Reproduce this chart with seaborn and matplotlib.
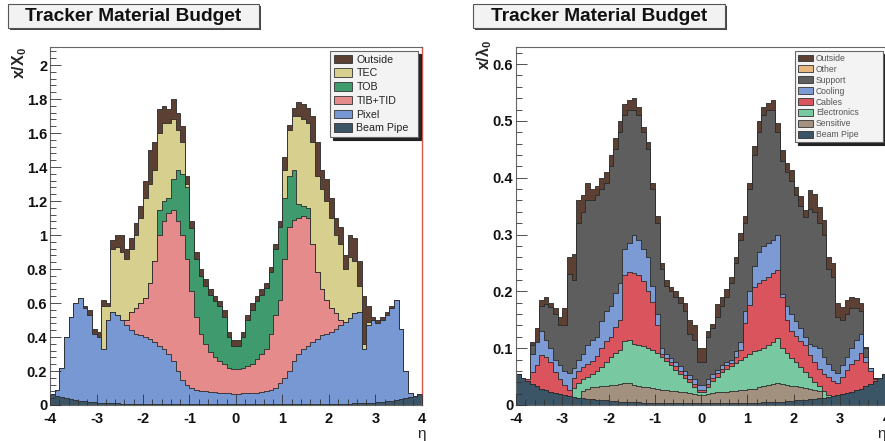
import numpy as np
import pandas as pd
import matplotlib
matplotlib.use("Agg")
import matplotlib.pyplot as plt
from matplotlib.patches import Patch, Rectangle
from matplotlib.ticker import MultipleLocator
import seaborn as sns

# eta binning (0.1 wide bins from -4 to 4)
eta_edges = np.linspace(-4, 4, 81)
eta_centers = (eta_edges[:-1] + eta_edges[1:]) / 2

# ---- left panel: x/X0, cumulative tops of each stacked layer
beam_l = [0.065, 0.055, 0.047, 0.040, 0.034, 0.029, 0.025, 0.021, 0.018, 0.016,
          0.014, 0.012, 0.011, 0.010, 0.009, 0.008, 0.007, 0.007, 0.006, 0.006,
          0.005, 0.005, 0.005, 0.004, 0.004, 0.004, 0.004, 0.003, 0.003, 0.003,
          0.003, 0.003, 0.003, 0.003, 0.003, 0.003, 0.003, 0.003, 0.003, 0.003,
          0.003, 0.003, 0.003, 0.003, 0.003, 0.003, 0.003, 0.003, 0.003, 0.003,
          0.003, 0.003, 0.003, 0.004, 0.004, 0.004, 0.004, 0.005, 0.005, 0.005,
          0.006, 0.006, 0.007, 0.007, 0.008, 0.009, 0.010, 0.011, 0.012, 0.014,
          0.016, 0.018, 0.021, 0.025, 0.029, 0.034, 0.040, 0.047, 0.055, 0.065]
pixel_l = [0.065, 0.09, 0.22, 0.40, 0.52, 0.60, 0.63, 0.57, 0.53, 0.42,
           0.40, 0.33, 0.50, 0.55, 0.53, 0.50, 0.47, 0.44, 0.42, 0.41,
           0.40, 0.39, 0.37, 0.35, 0.33, 0.30, 0.26, 0.20, 0.15, 0.12,
           0.10, 0.09, 0.085, 0.08, 0.077, 0.074, 0.072, 0.070, 0.068, 0.067,
           0.067, 0.068, 0.070, 0.071, 0.073, 0.076, 0.080, 0.090, 0.10, 0.13,
           0.16, 0.20, 0.26, 0.30, 0.33, 0.35, 0.37, 0.39, 0.41, 0.42,
           0.43, 0.45, 0.47, 0.49, 0.51, 0.54, 0.55, 0.33, 0.47, 0.50,
           0.48, 0.50, 0.53, 0.57, 0.62, 0.45, 0.20, 0.07, 0.055, 0.065]
tib_l = [0.065, 0.09, 0.22, 0.40, 0.52, 0.60, 0.63, 0.57, 0.53, 0.42,
         0.40, 0.33, 0.50, 0.55, 0.53, 0.50, 0.50, 0.55, 0.57, 0.60,
         0.63, 0.72, 0.85, 1.00, 1.08, 1.13, 1.15, 1.08, 1.00, 0.86,
         0.67, 0.52, 0.42, 0.36, 0.31, 0.28, 0.26, 0.24, 0.22, 0.21,
         0.21, 0.22, 0.23, 0.24, 0.27, 0.30, 0.33, 0.42, 0.53, 0.62,
         0.86, 1.05, 1.09, 1.10, 1.11, 1.10, 0.95, 0.78, 0.68, 0.62,
         0.57, 0.54, 0.50, 0.49, 0.51, 0.54, 0.55, 0.33, 0.47, 0.50,
         0.48, 0.50, 0.53, 0.57, 0.62, 0.45, 0.20, 0.07, 0.055, 0.065]
tob_l = [0.065, 0.09, 0.22, 0.40, 0.52, 0.60, 0.63, 0.57, 0.53, 0.42,
         0.40, 0.33, 0.50, 0.55, 0.53, 0.50, 0.50, 0.55, 0.57, 0.60,
         0.63, 0.72, 0.85, 1.15, 1.20, 1.22, 1.33, 1.38, 1.36, 1.28,
         1.04, 0.86, 0.76, 0.70, 0.65, 0.61, 0.58, 0.52, 0.40, 0.35,
         0.35, 0.40, 0.50, 0.56, 0.61, 0.65, 0.69, 0.78, 0.92, 1.05,
         1.22, 1.35, 1.38, 1.18, 1.17, 1.16, 0.95, 0.78, 0.68, 0.62,
         0.57, 0.54, 0.50, 0.49, 0.51, 0.54, 0.55, 0.33, 0.47, 0.50,
         0.48, 0.50, 0.53, 0.57, 0.62, 0.45, 0.20, 0.07, 0.055, 0.065]
tec_l = [0.065, 0.09, 0.22, 0.40, 0.52, 0.60, 0.63, 0.57, 0.53, 0.42,
         0.40, 0.58, 0.58, 0.92, 0.93, 0.90, 0.86, 0.92, 1.00, 1.10,
         1.22, 1.30, 1.38, 1.60, 1.66, 1.66, 1.68, 1.62, 1.55, 1.30,
         1.04, 0.86, 0.76, 0.70, 0.65, 0.61, 0.58, 0.52, 0.40, 0.35,
         0.35, 0.40, 0.50, 0.56, 0.61, 0.65, 0.69, 0.78, 0.92, 1.05,
         1.38, 1.62, 1.70, 1.70, 1.68, 1.66, 1.55, 1.35, 1.27, 1.20,
         1.10, 1.00, 0.95, 0.80, 0.87, 0.85, 0.70, 0.36, 0.49, 0.50,
         0.48, 0.50, 0.53, 0.57, 0.62, 0.45, 0.20, 0.07, 0.055, 0.065]
outside_l = [0.065, 0.09, 0.22, 0.40, 0.52, 0.60, 0.63, 0.58, 0.56, 0.45,
             0.43, 0.62, 0.60, 0.97, 1.00, 1.00, 0.92, 0.98, 1.07, 1.17,
             1.32, 1.50, 1.55, 1.74, 1.76, 1.74, 1.80, 1.72, 1.64, 1.35,
             1.08, 0.90, 0.80, 0.74, 0.68, 0.64, 0.61, 0.56, 0.43, 0.38,
             0.38, 0.43, 0.53, 0.60, 0.64, 0.68, 0.72, 0.81, 0.95, 1.08,
             1.46, 1.65, 1.75, 1.78, 1.77, 1.75, 1.70, 1.55, 1.38, 1.33,
             1.22, 1.10, 1.05, 0.88, 1.00, 0.98, 0.85, 0.64, 0.58, 0.52,
             0.50, 0.52, 0.55, 0.58, 0.62, 0.45, 0.20, 0.07, 0.055, 0.065]

# ---- right panel: x/lambda0, cumulative tops
beam_r = [0.054, 0.048, 0.042, 0.037, 0.033, 0.029, 0.026, 0.023, 0.021, 0.019,
          0.017, 0.015, 0.014, 0.013, 0.012, 0.011, 0.010, 0.009, 0.008, 0.008,
          0.007, 0.007, 0.006, 0.006, 0.005, 0.005, 0.005, 0.004, 0.004, 0.004,
          0.003, 0.003, 0.003, 0.003, 0.003, 0.003, 0.003, 0.003, 0.003, 0.003,
          0.003, 0.003, 0.003, 0.003, 0.003, 0.003, 0.003, 0.003, 0.003, 0.003,
          0.004, 0.004, 0.004, 0.005, 0.005, 0.005, 0.006, 0.006, 0.007, 0.007,
          0.008, 0.008, 0.009, 0.010, 0.011, 0.012, 0.013, 0.014, 0.015, 0.017,
          0.019, 0.021, 0.023, 0.026, 0.029, 0.033, 0.037, 0.042, 0.048, 0.054]
sens_r = [0.054, 0.048, 0.042, 0.037, 0.033, 0.029, 0.026, 0.023, 0.021, 0.019,
          0.017, 0.015, 0.014, 0.013, 0.024, 0.029, 0.031, 0.032, 0.033, 0.034,
          0.035, 0.036, 0.037, 0.039, 0.038, 0.036, 0.034, 0.032, 0.031, 0.030,
          0.029, 0.027, 0.026, 0.025, 0.024, 0.023, 0.022, 0.021, 0.020, 0.018,
          0.018, 0.020, 0.021, 0.022, 0.023, 0.023, 0.024, 0.025, 0.026, 0.027,
          0.028, 0.029, 0.031, 0.033, 0.035, 0.037, 0.039, 0.037, 0.035, 0.034,
          0.033, 0.031, 0.030, 0.028, 0.026, 0.024, 0.013, 0.014, 0.015, 0.017,
          0.019, 0.021, 0.023, 0.026, 0.029, 0.033, 0.037, 0.042, 0.048, 0.054]
elec_r = [0.054, 0.048, 0.042, 0.037, 0.033, 0.029, 0.026, 0.023, 0.021, 0.019,
          0.017, 0.015, 0.030, 0.038, 0.045, 0.050, 0.055, 0.060, 0.067, 0.075,
          0.085, 0.092, 0.097, 0.112, 0.115, 0.108, 0.105, 0.103, 0.100, 0.097,
          0.092, 0.085, 0.078, 0.070, 0.062, 0.055, 0.047, 0.040, 0.032, 0.022,
          0.022, 0.032, 0.042, 0.050, 0.058, 0.064, 0.068, 0.074, 0.080, 0.085,
          0.090, 0.095, 0.097, 0.100, 0.105, 0.110, 0.118, 0.100, 0.092, 0.083,
          0.075, 0.066, 0.058, 0.050, 0.040, 0.034, 0.025, 0.018, 0.015, 0.017,
          0.019, 0.021, 0.023, 0.026, 0.029, 0.033, 0.037, 0.042, 0.048, 0.054]
cables_r = [0.054, 0.048, 0.045, 0.058, 0.070, 0.088, 0.085, 0.075, 0.058, 0.045,
            0.035, 0.027, 0.048, 0.060, 0.066, 0.072, 0.078, 0.087, 0.100, 0.112,
            0.120, 0.138, 0.150, 0.228, 0.234, 0.232, 0.229, 0.218, 0.200, 0.182,
            0.140, 0.090, 0.082, 0.075, 0.068, 0.060, 0.053, 0.046, 0.037, 0.026,
            0.026, 0.037, 0.047, 0.056, 0.064, 0.070, 0.074, 0.085, 0.097, 0.145,
            0.176, 0.208, 0.215, 0.220, 0.225, 0.232, 0.237, 0.190, 0.150, 0.130,
            0.122, 0.112, 0.105, 0.088, 0.075, 0.063, 0.055, 0.050, 0.042, 0.038,
            0.050, 0.061, 0.072, 0.080, 0.091, 0.075, 0.060, 0.046, 0.048, 0.054]
cooling_r = [0.054, 0.048, 0.045, 0.090, 0.110, 0.130, 0.115, 0.100, 0.080, 0.070,
             0.060, 0.056, 0.065, 0.080, 0.090, 0.105, 0.115, 0.120, 0.148, 0.165,
             0.175, 0.197, 0.214, 0.275, 0.285, 0.300, 0.290, 0.275, 0.260, 0.210,
             0.160, 0.100, 0.090, 0.082, 0.075, 0.068, 0.060, 0.052, 0.045, 0.035,
             0.035, 0.045, 0.054, 0.062, 0.070, 0.076, 0.080, 0.095, 0.110, 0.165,
             0.200, 0.245, 0.270, 0.280, 0.285, 0.290, 0.300, 0.196, 0.175, 0.160,
             0.148, 0.135, 0.120, 0.108, 0.104, 0.100, 0.085, 0.072, 0.062, 0.056,
             0.070, 0.085, 0.100, 0.114, 0.125, 0.085, 0.065, 0.048, 0.048, 0.054]
support_r = [0.054, 0.048, 0.045, 0.105, 0.110, 0.175, 0.178, 0.172, 0.160, 0.140,
             0.140, 0.230, 0.220, 0.320, 0.340, 0.360, 0.360, 0.370, 0.380, 0.390,
             0.420, 0.450, 0.480, 0.510, 0.520, 0.520, 0.510, 0.480, 0.450, 0.380,
             0.320, 0.240, 0.210, 0.200, 0.190, 0.180, 0.165, 0.125, 0.115, 0.075,
             0.075, 0.120, 0.135, 0.155, 0.175, 0.190, 0.215, 0.250, 0.290, 0.320,
             0.380, 0.440, 0.480, 0.510, 0.520, 0.520, 0.480, 0.430, 0.410, 0.395,
             0.370, 0.350, 0.330, 0.345, 0.340, 0.320, 0.300, 0.240, 0.225, 0.155,
             0.150, 0.160, 0.170, 0.170, 0.165, 0.100, 0.065, 0.048, 0.048, 0.054]
# "Other" adds no visible thickness on top of Support
other_r = support_r
outside_r = [0.054, 0.048, 0.045, 0.110, 0.135, 0.185, 0.190, 0.180, 0.170, 0.155,
             0.170, 0.260, 0.265, 0.360, 0.370, 0.390, 0.380, 0.385, 0.400, 0.410,
             0.440, 0.470, 0.500, 0.530, 0.537, 0.540, 0.525, 0.490, 0.462, 0.390,
             0.332, 0.250, 0.220, 0.208, 0.200, 0.190, 0.180, 0.150, 0.140, 0.100,
             0.100, 0.130, 0.143, 0.178, 0.190, 0.205, 0.226, 0.260, 0.302, 0.332,
             0.390, 0.455, 0.500, 0.525, 0.532, 0.537, 0.496, 0.449, 0.425, 0.414,
             0.384, 0.367, 0.343, 0.378, 0.372, 0.349, 0.326, 0.260, 0.250, 0.179,
             0.173, 0.185, 0.190, 0.188, 0.179, 0.102, 0.065, 0.048, 0.048, 0.054]

left_layers = [("Outside", "#5c4033", outside_l), ("TEC", "#d6cf8d", tec_l),
               ("TOB", "#3f9b6e", tob_l), ("TIB+TID", "#e68b8b", tib_l),
               ("Pixel", "#7898d3", pixel_l), ("Beam Pipe", "#3c5566", beam_l)]
right_layers = [("Outside", "#5c4033", outside_r), ("Other", "#e6b77e", other_r),
                ("Support", "#5e5e5e", support_r), ("Cooling", "#7c9ad4", cooling_r),
                ("Cables", "#d9545d", cables_r), ("Electronics", "#78c8a2", elec_r),
                ("Sensitive", "#a39180", sens_r), ("Beam Pipe", "#3c5566", beam_r)]

sns.set_theme(style="white")
plt.rcParams["font.family"] = ["Liberation Sans", "DejaVu Sans"]
plt.rcParams["mathtext.fontset"] = "custom"
plt.rcParams["mathtext.rm"] = "Liberation Sans"
plt.rcParams["mathtext.bf"] = "Liberation Sans:bold"
plt.rcParams["mathtext.it"] = "Liberation Sans:italic"

W, H = 885, 441
fig = plt.figure(figsize=(W / 100, H / 100), dpi=100)


def fx(px):
    return px / W


def fy(py):
    return 1 - py / H


def draw_panel(ax, layers, ymax, ymajor, yminor, ylabels, leg_fs, leg_color):
    # running max so every layer sits on (or above) the one below it
    tops = np.maximum.accumulate(np.array([t for _, _, t in layers][::-1]), axis=0)[::-1]
    for (name, color, _), top in zip(layers, tops):
        df = pd.DataFrame({"eta": eta_centers, "w": top})
        sns.histplot(data=df, x="eta", weights="w", bins=eta_edges.tolist(), element="step",
                     fill=True, color=color, alpha=1, edgecolor="#2a2a2a",
                     linewidth=0.6, ax=ax)
    ax.set_xlim(-4, 4)
    ax.set_ylim(0, ymax)
    ax.set_xlabel("")
    ax.set_ylabel("")
    ax.set_axisbelow(False)
    ax.set_xticks(range(-4, 5))
    ax.set_xticklabels([str(v) for v in range(-4, 5)], fontweight="bold", fontsize=10.5)
    yt = np.arange(len(ylabels)) * ymajor
    ax.set_yticks(yt)
    ax.set_yticklabels(ylabels, fontweight="bold", fontsize=10.5)
    ax.xaxis.set_minor_locator(MultipleLocator(0.2))
    ax.yaxis.set_minor_locator(MultipleLocator(yminor))
    ax.tick_params(which="both", direction="in", color="#333333", width=0.6,
                   bottom=True, left=True, top=False, right=False, pad=2,
                   labelcolor="#111111")
    ax.tick_params(axis="x", which="both", pad=5)
    ax.tick_params(which="major", length=8)
    ax.tick_params(which="minor", length=4)
    for sp in ax.spines.values():
        sp.set_color("#666666")
        sp.set_linewidth(0.8)
    handles = [Patch(facecolor=c, edgecolor="#333333", linewidth=0.6, label=n)
               for n, c, _ in layers]
    leg = ax.legend(handles=handles, loc="upper left", bbox_to_anchor=(0.753, 0.0, 0.237, 0.989),
                    mode="expand", frameon=True, fancybox=False,
                    shadow={"color": "#222222", "alpha": 1}, framealpha=1,
                    facecolor="#f3f3f3", edgecolor="#666666", fontsize=leg_fs,
                    handlelength=1.7, handleheight=0.85, handletextpad=0.4,
                    labelspacing=0.35 if len(layers) < 7 else 0.22,
                    borderpad=0.35, borderaxespad=0, labelcolor=leg_color)
    leg.get_frame().set_linewidth(0.8)


ax_l = fig.add_axes([fx(50), fy(405), fx(372), 358 / H])
draw_panel(ax_l, left_layers, 2.106, 0.2, 0.04,
           ["0", "0.2", "0.4", "0.6", "0.8", "1", "1.2", "1.4", "1.6", "1.8", "2"],
           7.7, "#222222")
ax_l.spines["right"].set_color("#d9534f")
ax_l.spines["right"].set_linewidth(1.0)

ax_r = fig.add_axes([fx(516), fy(405), fx(370.4), 358 / H])
draw_panel(ax_r, right_layers, 0.63, 0.1, 0.02,
           ["0", "0.1", "0.2", "0.3", "0.4", "0.5", "0.6"], 6.2, "#555555")

# axis titles in ROOT placement
fig.text(fx(20), fy(47), r"$\mathbf{x/X_0}$", rotation=90, ha="center", va="top", fontsize=11.5)
fig.text(fx(484), fy(40), r"$\mathbf{x/\lambda_0}$", rotation=90, ha="center", va="top", fontsize=11.5)
fig.text(fx(422), fy(434), "η", ha="center", va="center", fontsize=11)
fig.text(fx(882), fy(434), "η", ha="center", va="center", fontsize=11)

# title boxes with shadow
for x0, x1 in [(8, 259), (473, 725)]:
    fig.patches.append(Rectangle((fx(x0 + 2), fy(30)), fx(x1 - x0), 24 / H,
                                 transform=fig.transFigure, facecolor="#444444",
                                 edgecolor="none", zorder=1))
    fig.patches.append(Rectangle((fx(x0), fy(28)), fx(x1 - x0), 24 / H,
                                 transform=fig.transFigure, facecolor="#f2f2f2",
                                 edgecolor="#555555", linewidth=0.8, zorder=2))
    fig.text(fx((x0 + x1) / 2), fy(16.5), "Tracker Material Budget", ha="center",
             va="center", fontsize=13.8, fontweight="bold", color="#111111", zorder=3)

fig.savefig("out.png", dpi=100)
